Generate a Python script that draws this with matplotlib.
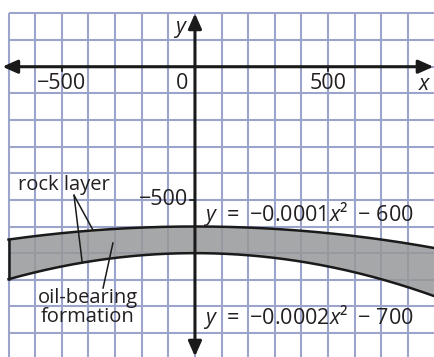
import numpy as np
import matplotlib
matplotlib.use("Agg")
import matplotlib.pyplot as plt

# ---- data ----
upper_coef = [-0.0001, -600]   # y = a x^2 + c (top of formation)
lower_coef = [-0.0002, -700]   # y = a x^2 + c (bottom of formation)
x_tick_vals = [-500, 0, 500]
x_tick_labels = ["\u2212500", "0", "500"]
y_tick_vals = [-500]
y_tick_labels = ["\u2212500"]
eq_labels = ["$y$  =  \u22120.0001$x$\u00b2  \u2212 600", "$y$  =  \u22120.0002$x$\u00b2  \u2212 700"]
annot_labels = ["rock layer", "oil-bearing\nformation"]

plt.rcParams['font.family'] = ['Open Sans', 'DejaVu Sans']
plt.rcParams['mathtext.fontset'] = 'custom'
plt.rcParams['mathtext.rm'] = 'Open Sans'
plt.rcParams['mathtext.it'] = 'Open Sans:italic'

grid_c = '#9ca4cb'
fill_c = '#979899'
fs = 15.5
fs_a = 14.5
tc = '#231f20'

fig = plt.figure(figsize=(4.34, 3.57), dpi=100)
ax = fig.add_axes([0, 0, 1, 1])
xmin, xmax = -732, 897.5
ymin, ymax = -1090, 250.5
ax.set_xlim(xmin, xmax)
ax.set_ylim(ymin, ymax)
ax.axis('off')

# grid
for gx in np.arange(-700, 900, 100):
    ax.plot([gx, gx], [ymin, 200], color=grid_c, lw=1.5, zorder=1, solid_capstyle='butt')
for gy in np.arange(200, -1100, -100):
    ax.plot([-700, xmax], [gy, gy], color=grid_c, lw=1.5, zorder=1, solid_capstyle='butt')

# formation
xs = np.linspace(-700, xmax, 400)
yu = upper_coef[0] * xs**2 + upper_coef[1]
yl = lower_coef[0] * xs**2 + lower_coef[1]
ax.fill_between(xs, yl, yu, color=fill_c, alpha=0.85, lw=0, zorder=2)
ax.plot(xs, yu, color='#1a1a1a', lw=1.8, zorder=3)
ax.plot(xs, yl, color='#1a1a1a', lw=1.8, zorder=3)
ax.plot([-700, -700], [yl[0], yu[0]], color='#1a1a1a', lw=1.8, zorder=3)

# axes arrows
ap = dict(arrowstyle='<|-|>,head_length=0.9,head_width=0.4', lw=2.2, color='#1a1a1a',
          shrinkA=0, shrinkB=0)
ax.annotate('', xy=(-723, 0), xytext=(xmax - 2, 0), arrowprops=ap, zorder=4)
ax.annotate('', xy=(0, 200), xytext=(0, ymin + 2), arrowprops=ap, zorder=4)

# ticks
for xv, lab in zip(x_tick_vals, x_tick_labels):
    if xv != 0:
        ax.plot([xv, xv], [0, -15], color='#1a1a1a', lw=1.2, zorder=4)
        ax.text(xv, -62, lab, ha='center', va='center', fontsize=fs, color=tc, zorder=5)
    else:
        ax.text(-48, -62, lab, ha='center', va='center', fontsize=fs, color=tc, zorder=5)
for yv, lab in zip(y_tick_vals, y_tick_labels):
    ax.plot([0, -18], [yv, yv], color='#1a1a1a', lw=1.2, zorder=4)
    ax.text(-26, yv, lab, ha='right', va='center', fontsize=fs, color=tc, zorder=5)

ax.text(-55, 138, '$y$', ha='center', va='center', fontsize=fs, color=tc, zorder=5)
ax.text(862, -65, '$x$', ha='center', va='center', fontsize=fs, color=tc, zorder=5)

# equations
ax.text(30, -552, eq_labels[0], ha='left', va='center', fontsize=fs, color=tc, zorder=5)
ax.text(30, -940, eq_labels[1], ha='left', va='center', fontsize=fs, color=tc, zorder=5)

# annotations
ax.text(-492, -445, annot_labels[0], ha='center', va='center', fontsize=fs_a, color=tc, zorder=5)
ax.text(-402, -905, annot_labels[1], ha='center', va='center', fontsize=fs_a, color=tc,
        linespacing=0.95, zorder=5)
lc = '#1a1a1a'
ax.plot([-454, -383], [-483, -613], color=lc, lw=1.1, zorder=4)
ax.plot([-454, -424], [-483, -730], color=lc, lw=1.1, zorder=4)
ax.plot([-345, -308], [-831, -662], color=lc, lw=1.1, zorder=4)

fig.savefig('out.png', dpi=100)
